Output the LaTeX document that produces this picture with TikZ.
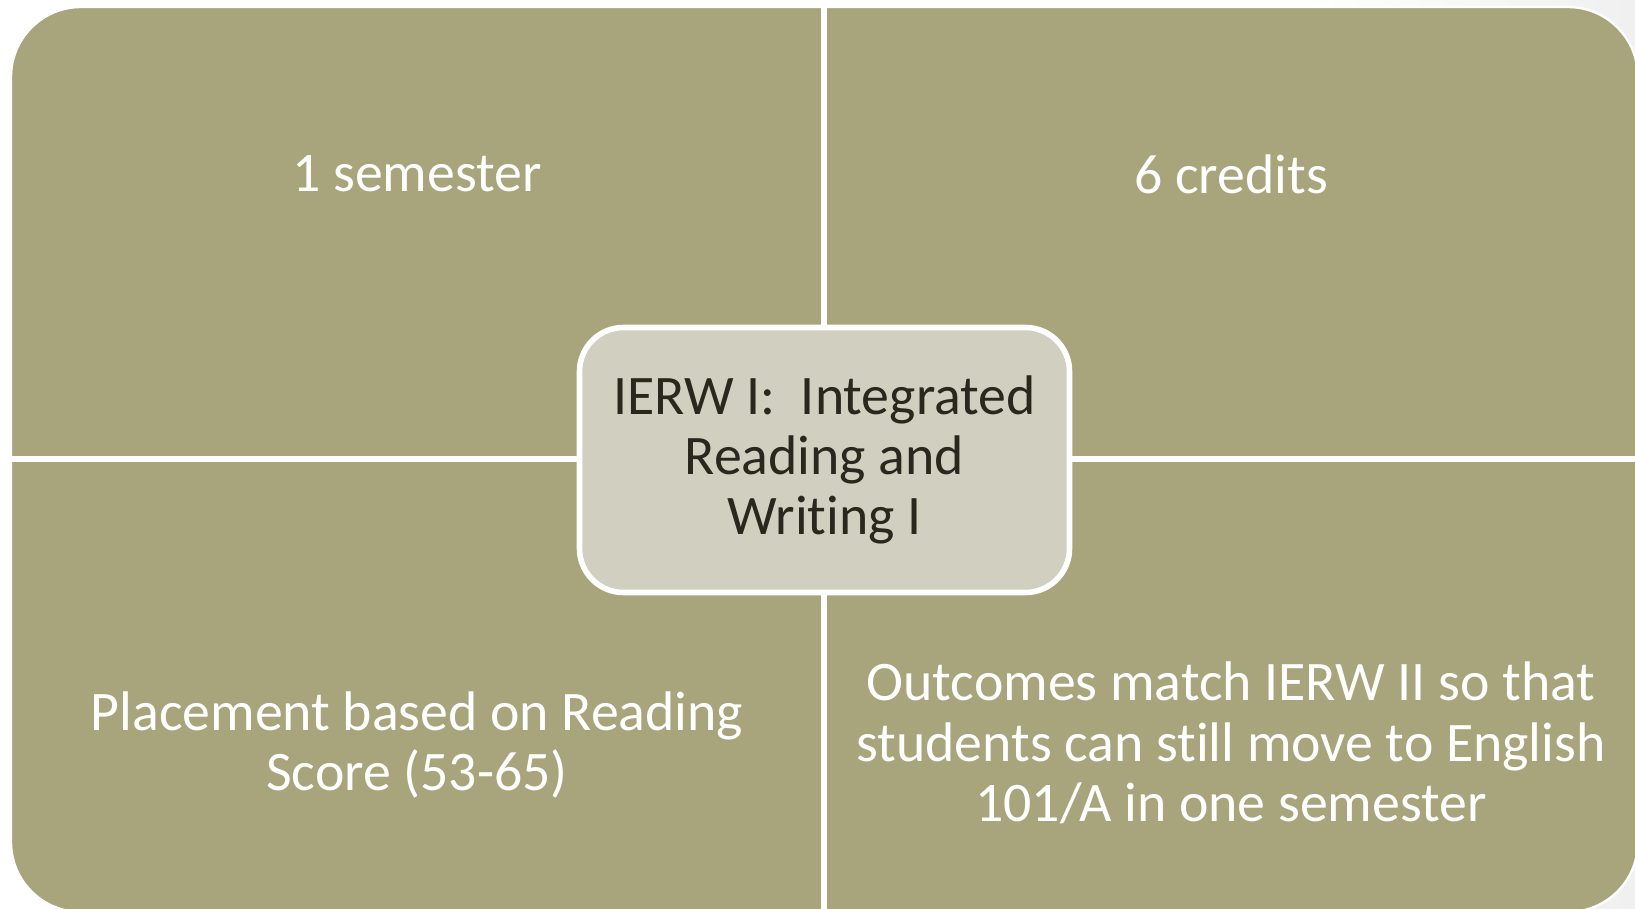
\documentclass[tikz,border=0pt]{standalone}
\usepackage{fontspec}
\setmainfont{Carlito}[Ligatures=NoCommon]
\usetikzlibrary{positioning}
\definecolor{olivetan}{RGB}{168,165,124}
\definecolor{paletan}{RGB}{209,208,192}
\definecolor{inkdark}{RGB}{42,40,30}

\begin{document}
\begin{tikzpicture}[x=0.5pt, y=-0.5pt,
  quad/.style={text=white, align=center, font=\fontsize{27.9}{30.2}\selectfont},
  hub/.style={rounded corners=22pt, draw=white, line width=2.8pt, fill=paletan, text=inkdark, align=center,
              minimum width=245pt, minimum height=132.5pt, inner sep=0pt, font=\fontsize{27.9}{30.2}\selectfont},
  divider/.style={white, line width=2.8pt},
]
\useasboundingbox (0,0) rectangle (1635,909);
\clip (0,0) rectangle (1635,909);
% page backdrop, a little grey to the right
\fill[white] (0,0) rectangle (1635,909);
\shade[left color=white, right color=black!6] (1300,0) rectangle (1635,909);
% matrix body
\fill[olivetan, draw=white, line width=1.2pt, rounded corners=35pt] (11,7) rectangle (1638,912);
\coordinate (top) at (824,0);
\coordinate (bot) at (824,909);
\coordinate (lft) at (11,459);
\coordinate (rgt) at (1635,459);
\draw[divider] (top) -- (bot);
\draw[divider] (lft) -- (rgt);
\node[quad] (sem) at (417,174) {1 semester};
\node[quad] (cred) at (1231,174) {6 credits};
\node[quad] (place) at (417,745) {Placement based on Reading\\Score (53-65)};
\node[quad] (outc) at (1231,743) {Outcomes match IERW II so that\\students can still move to English\\101/A in one semester};
\node[hub] (ierw) at (824.5,460) {IERW I:\ \ Integrated\\Reading and\\Writing I};
\end{tikzpicture}
\end{document}
